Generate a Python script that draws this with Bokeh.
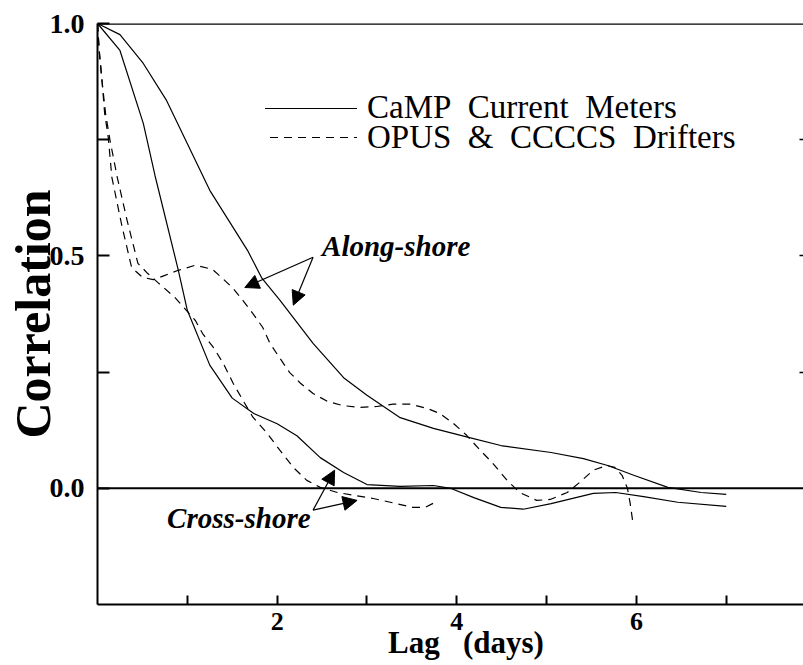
from bokeh.plotting import figure
from bokeh.models import (Range1d, FixedTicker, LinearAxis, Span, Label, Arrow,
                          NormalHead, PrintfTickFormatter)
from bokeh.embed import file_html
from bokeh.resources import INLINE

# ---------------- data ----------------
camp_along_lag = [0, 0.25, 0.51, 0.77, 1.25, 1.67, 1.83, 2.03, 2.40, 2.74, 3.0, 3.37,
                  3.74, 4.12, 4.49, 5.05, 5.41, 5.68, 5.97, 6.35, 6.72, 7.0]
camp_along_r = [1.0, 0.976, 0.914, 0.834, 0.641, 0.512, 0.452, 0.405, 0.312, 0.238, 0.200,
                0.152, 0.129, 0.110, 0.092, 0.077, 0.064, 0.049, 0.028, 0.002, -0.009, -0.013]

camp_cross_lag = [0, 0.25, 0.51, 0.64, 0.90, 1.0, 1.25, 1.5, 1.74, 2.0, 2.22, 2.48, 2.74,
                  3.0, 3.37, 3.74, 3.93, 4.19, 4.49, 4.74, 5.05, 5.52, 5.77, 6.08, 6.46, 7.0]
camp_cross_r = [1.0, 0.942, 0.785, 0.673, 0.469, 0.383, 0.265, 0.194, 0.161, 0.139, 0.113,
                0.066, 0.034, 0.008, 0.004, 0.006, 0.0, -0.020, -0.041, -0.045, -0.033,
                -0.011, -0.009, -0.018, -0.030, -0.039]

drift_along_lag = [0, 0.02, 0.05, 0.08, 0.12, 0.16, 0.27, 0.38, 0.50, 0.62, 0.75, 0.90,
                   1.09, 1.28, 1.39, 1.51, 1.62, 1.73, 1.84, 1.92, 2.03, 2.14, 2.26, 2.40,
                   2.56, 2.73, 2.92, 3.11, 3.29, 3.48, 3.67, 3.81, 3.96, 4.11, 4.26, 4.40,
                   4.56, 4.70, 4.89, 5.04, 5.23, 5.37, 5.52, 5.67, 5.76, 5.84, 5.90, 5.93, 5.96]
drift_along_r = [1.0, 0.94, 0.877, 0.806, 0.755, 0.669, 0.566, 0.475, 0.454, 0.449, 0.458,
                 0.469, 0.480, 0.471, 0.452, 0.430, 0.404, 0.376, 0.346, 0.312, 0.280, 0.249,
                 0.226, 0.204, 0.187, 0.178, 0.174, 0.176, 0.181, 0.181, 0.172, 0.161, 0.140,
                 0.114, 0.082, 0.054, 0.017, -0.009, -0.026, -0.024, -0.009, 0.013, 0.039,
                 0.049, 0.045, 0.028, 0.0, -0.032, -0.073]

drift_cross_lag = [0, 0.02, 0.05, 0.09, 0.14, 0.22, 0.33, 0.45, 0.56, 0.67, 0.86, 1.09,
                   1.17, 1.29, 1.40, 1.51, 1.62, 1.73, 1.89, 2.03, 2.18, 2.33, 2.48, 2.67,
                   2.85, 3.07, 3.26, 3.51, 3.65, 3.74]
drift_cross_r = [1.0, 0.94, 0.877, 0.806, 0.748, 0.669, 0.576, 0.484, 0.462, 0.443, 0.411,
                 0.361, 0.333, 0.303, 0.269, 0.226, 0.189, 0.153, 0.118, 0.082, 0.045, 0.017,
                 0.002, -0.009, -0.015, -0.022, -0.030, -0.041, -0.041, -0.032]

x_major_ticks = [2, 4, 6]
x_minor_ticks = [1, 3, 5, 7]
y_major_ticks = [0.0, 0.5, 1.0]
y_minor_ticks = [0.25, 0.75]

NB = "\u00a0"
legend_labels = ["CaMP" + NB * 2 + "Current" + NB * 2 + "Meters",
                 "OPUS" + NB * 2 + "&" + NB * 2 + "CCCCS" + NB * 2 + "Drifters"]
x_title = NB * 4 + "Lag" + NB * 3 + "(days)"
y_title = "Correlation"
along_text = "Along-shore"
cross_text = "Cross-shore"

# annotation anchor points (data units)
along_origin = (2.40, 0.497)
along_tips = [(1.64, 0.432), (2.18, 0.394)]
cross_origin = (2.40, -0.047)
cross_tips = [(2.64, 0.039), (2.89, -0.026)]
along_text_pos = (2.50, 0.522)
cross_text_pos = (0.775, -0.063)

# ---------------- figure ----------------
FONT = "Liberation Serif"
FL, FB = 97.5, 604.0   # frame left / bottom in canvas pixels


def sx(px):
    return px - FL


def sy(py):
    return FB - py


p = figure(width=803, height=665, output_backend="svg", toolbar_location=None,
           x_range=Range1d(0, 7.86), y_range=Range1d(-0.25, 1.0),
           min_border_left=97, min_border_right=0, min_border_top=23,
           min_border_bottom=61)
p.outline_line_color = None
p.grid.visible = False

xa = p.xaxis[0]
xa.ticker = FixedTicker(ticks=x_major_ticks, minor_ticks=x_minor_ticks)
xa.major_tick_in = 9
xa.major_tick_out = 0
xa.minor_tick_in = 9
xa.minor_tick_out = 0
xa.major_tick_line_width = 2
xa.minor_tick_line_width = 2
xa.axis_line_width = 2
xa.major_label_text_font = FONT
xa.major_label_text_font_style = "bold"
xa.major_label_text_font_size = "26px"
xa.major_label_text_color = "black"
xa.major_label_standoff = 8
xa.axis_label = x_title
xa.axis_label_text_font = FONT
xa.axis_label_text_font_style = "bold"
xa.axis_label_text_font_size = "31px"
xa.axis_label_text_color = "black"
xa.axis_label_standoff = -8

ya = p.yaxis[0]
ya.ticker = FixedTicker(ticks=y_major_ticks, minor_ticks=y_minor_ticks)
ya.formatter = PrintfTickFormatter(format="%.1f")
ya.major_tick_in = 12
ya.major_tick_out = 0
ya.minor_tick_in = 12
ya.minor_tick_out = 0
ya.major_tick_line_width = 2
ya.minor_tick_line_width = 2
ya.axis_line_width = 2
ya.major_label_text_font = FONT
ya.major_label_text_font_style = "bold"
ya.major_label_text_font_size = "28px"
ya.major_label_text_color = "black"
ya.major_label_standoff = 13
ya.axis_label = y_title
ya.axis_label_text_font = FONT
ya.axis_label_text_font_style = "bold"
ya.axis_label_text_font_size = "50px"
ya.axis_label_text_color = "black"
ya.axis_label_standoff = -14

ra = LinearAxis(ticker=FixedTicker(ticks=[0.25, 0.5, 0.75], minor_ticks=[]),
                major_tick_in=4, major_tick_out=0, axis_line_color=None,
                major_label_text_font_size="1px", major_label_text_alpha=0,
                major_label_standoff=0, major_tick_line_width=1.5)
p.add_layout(ra, "right")

p.add_layout(Span(location=1.0, dimension="width", line_color="black", line_width=2.5))
p.add_layout(Span(location=0.0, dimension="width", line_color="black", line_width=2))

# ---------------- curves ----------------
LW = 1.2
p.line(camp_along_lag, camp_along_r, line_color="black", line_width=LW)
p.line(camp_cross_lag, camp_cross_r, line_color="black", line_width=LW)
p.line(drift_along_lag, drift_along_r, line_color="black", line_width=LW, line_dash="8 6")
p.line(drift_cross_lag, drift_cross_r, line_color="black", line_width=LW, line_dash="8 6")

# ---------------- legend (drawn by hand) ----------------
p.add_layout(Arrow(start=None, end=None, x_start=sx(265), y_start=sy(108),
                   x_end=sx(357), y_end=sy(108), start_units="screen", end_units="screen",
                   line_color="black", line_width=LW))
p.add_layout(Arrow(start=None, end=None, x_start=sx(270), y_start=sy(137),
                   x_end=sx(357), y_end=sy(137), start_units="screen", end_units="screen",
                   line_color="black", line_width=LW, line_dash="8 6"))
for lab, base in zip(legend_labels, [106, 136]):
    p.add_layout(Label(x=sx(367), y=sy(base), x_units="screen", y_units="screen",
                       text=lab, text_font=FONT, text_font_size="33px",
                       text_baseline="alphabetic", text_align="left", text_color="black"))

# ---------------- annotations ----------------
p.add_layout(Label(x=along_text_pos[0], y=along_text_pos[1], text=along_text,
                   text_font=FONT, text_font_size="29px", text_font_style="bold italic",
                   text_baseline="alphabetic", text_align="left", text_color="black"))
p.add_layout(Label(x=cross_text_pos[0], y=cross_text_pos[1], text=cross_text,
                   text_font=FONT, text_font_size="29px", text_font_style="bold italic",
                   text_baseline="alphabetic", text_align="left", text_color="black"))

for origin, tips in [(along_origin, along_tips), (cross_origin, cross_tips)]:
    for tx, ty in tips:
        p.add_layout(Arrow(x_start=origin[0], y_start=origin[1], x_end=tx, y_end=ty,
                           line_color="black", line_width=1.2,
                           end=NormalHead(size=14, fill_color="black", line_color="black",
                                          line_width=1)))

open("out.html", "w").write(file_html(p, INLINE))
